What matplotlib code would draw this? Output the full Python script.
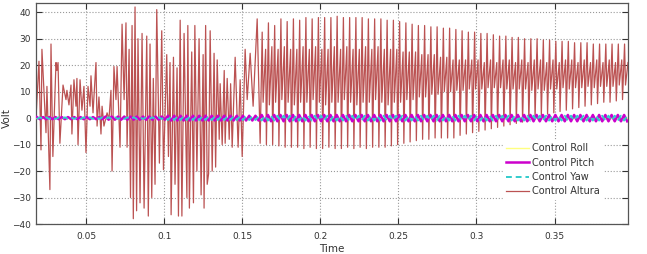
import matplotlib.pyplot as plt
import numpy as np

# first part of the altura trace, extremes (ms, volt)
alt_start_ms = [18.0, 19.9, 21.2, 21.8, 24.4, 25.0, 26.9, 27.6, 28.8, 30.8,
                31.4, 32.1, 33.3, 35.3, 37.2, 37.8, 39.1, 40.4, 41.0, 42.3,
                43.6, 44.2, 44.9, 46.2, 47.4, 48.7, 50.0, 51.3, 52.6, 53.2,
                54.5, 56.4, 57.1, 58.3, 59.6, 60.3, 61.5, 63.5, 64.7, 66.0,
                66.7, 67.9, 69.2, 69.9, 71.8, 73.1, 74.4, 75.6, 76.3, 77.6,
                78.5, 79.5, 80.3, 81.4, 82.4, 83.3, 84.6, 85.9, 87.2, 88.9,
                89.9, 91.0, 92.1, 93.1, 94.2, 95.3, 97.0, 98.5, 99.6, 101.7,
                102.8, 103.8, 104.5, 106.0, 107.0, 108.3, 109.2, 110.3, 111.4, 112.8,
                114.6, 115.2, 116.2, 117.7, 118.8, 119.7, 121.0, 122.4, 123.7, 125.0,
                125.6, 126.6, 127.6, 128.5, 129.5, 130.8, 132.0, 133.0, 134.0, 135.3,
                135.9, 137.2, 138.5, 139.1, 140.4, 141.7, 142.6, 143.6, 145.5, 147.4,
                148.7, 150.0, 151.9, 153.2, 155.1, 157.0, 159.6]
alt_start_v = [0, 21.5, -12, 26, -5.5, 12, -27, 28, -14.5, 21,
               18, 21, -9.5, 12.5, 7, 10.5, 5, 12.5, -6, 14.5,
               4.5, 15, -10, 14.5, 3, 12, -13, 12, 4.5, 16,
               2, 21, -3, 8, -6, 4.5, -3, 2, -0.5, 10.5,
               -20, 19.5, 7, 19.5, -11, 35.5, 7, 36, -11, 26,
               -30, 35, -38, 42, -35, 30, -32, 32, -34, 31,
               -37, 28, -30, 15, -25, 41, -17, 33, -19.5, 24,
               -14.5, 21, -36.5, 23, -25, 19, -37, 37, -37, 32,
               -30, 35, -34, 25, -32, 35, -20, 30, -29, 24,
               -34, 35, -25, -21, 33, -20, 24.5, -18.5, 22, -8,
               13, -10, 18, -9.5, 15, -8, 13, -11, 23, -11,
               14.5, -14.5, 26, 7, 24.5, 4.5, 37.5]

# from 161.5 ms on: one spike every 4 ms, per cycle values
cycle0_ms = 161.5
cycle_ms = 4.0
alt_trough = [-9.5, -10, -10, -10.5, -11, -11,
              -11, -11.5, -11, -11.5, -11.5, -11, -11.5, -11.5, -11, -11.5,
              -11, -11.5, -11, -11, -11,
              -10.5, -10, -9.5, -9, -8.5, -8, -8,
              -7.5, -7.5, -7.5, -7.5, -6.5, -6, -5.5, -5, -4.5,
              -4, -3.5, -3, -2.5, -2, -1.5, -1, 0, 1,
              1.5, 2, 2.5, 3, 3.5, 4, 4.5, 5, 5.5, 6, 6, 6.5, 7]
alt_peak = [32.5, 36, 35, 37.5, 36.5, 37.5, 37, 38, 37.5, 38,
            38, 38, 38.5, 38, 38, 38, 38, 37.5, 37.5, 37.5,
            37, 37, 36.5, 36, 35.5, 35, 35, 34.5, 34.5, 34,
            34, 33.5, 33, 32.5, 32.5, 32, 32, 31.5, 31, 31,
            30.5, 30.5, 30, 30, 30, 29.5, 29.5, 29, 29, 29,
            28.5, 28.5, 28.5, 28, 28, 28, 28, 28, 28]
# low point right after the spike, then the top of the slow climb before the drop
alt_dip = [6, 5, 6, 7, 6, 5, 6, 6, 7, 6,
           5, 6, 6, 7, 6, 5, 6, 6, 7, 6,
           5, 6, 6, 7, 7, 8, 8, 9,
           9, 10, 10, 10.5, 10.5, 11, 11, 11, 11.5, 11.5, 11.5, 11, 11,
           11, 11, 10.5, 11, 10.5, 11, 11, 11.5, 11, 11.5, 11.5, 12, 11.5,
           12, 12, 12, 12.5, 12.5]
alt_bump = [26, 27, 26, 27, 26, 26, 27, 26, 27, 26,
            26, 27, 26, 27, 26, 26, 27, 26, 27, 26,
            26, 26, 25, 25, 25, 24, 24, 24,
            23, 23, 22, 22, 22, 22, 22, 21, 22, 21, 22, 22, 21,
            22, 21, 22, 22, 21, 22, 21, 22, 22, 21, 22, 21, 22,
            21, 22, 21, 22, 21]

# pitch / yaw: small 4 ms wiggle round zero, amplitude per cycle from 17.5 ms
wiggle0_ms = 17.5
pitch_amp = [0.4, 0.4, 0.4, 0.4, 0.4, 0.4, 0.4, 0.4, 0.4, 0.4, 0.4,
             0.6, 0.6, 0.6, 0.6, 0.6, 0.6, 0.6, 0.6, 0.6, 0.6,
             0.9, 0.9, 0.9, 0.9, 0.9, 0.9, 0.9, 0.9, 0.9, 0.9, 0.9, 0.9, 0.9, 0.9, 0.9,
             1.2, 1.2, 1.2, 1.2, 1.2, 1.2, 1.2, 1.2, 1.2, 1.2,
             1.2, 1.2, 1.2, 1.2, 1.2, 1.2, 1.2, 1.2, 1.2, 1.2,
             1.2, 1.2, 1.2, 1.2, 1.2, 1.2, 1.2, 1.2, 1.2, 1.2,
             1.2, 1.2, 1.2, 1.2, 1.2, 1.2, 1.2, 1.2, 1.2, 1.2,
             1.2, 1.2, 1.2, 1.2, 1.2, 1.2, 1.2, 1.2, 1.2, 1.2,
             1.2, 1.2, 1.2, 1.2, 1.2, 1.2, 1.2, 1.2, 1.2]
yaw_amp = [0.3, 0.3, 0.3, 0.3, 0.3, 0.3, 0.3, 0.3, 0.3, 0.3, 0.3,
           0.3, 0.3, 0.3, 0.3, 0.3, 0.3, 0.3, 0.3, 0.3, 0.3,
           0.7, 0.7, 0.7, 0.7, 0.7, 0.7, 0.7, 0.7, 0.7, 0.7, 0.7, 0.7, 0.7, 0.7, 0.7,
           0.9, 0.9, 0.9, 0.9, 0.9, 0.9, 0.9, 0.9, 0.9, 0.9,
           0.9, 0.9, 0.9, 0.9, 0.9, 0.9, 0.9, 0.9, 0.9, 0.9,
           0.9, 0.9, 0.9, 0.9, 0.9, 0.9, 0.9, 0.9, 0.9, 0.9,
           0.9, 0.9, 0.9, 0.9, 0.9, 0.9, 0.9, 0.9, 0.9, 0.9,
           0.9, 0.9, 0.9, 0.9, 0.9, 0.9, 0.9, 0.9, 0.9, 0.9,
           0.9, 0.9, 0.9, 0.9, 0.9, 0.9, 0.9, 0.9, 0.9]

roll_ms = [18.0, 397.0]
roll_v = [0.0, 0.0]

# build the traces
n = len(alt_peak)
t0 = cycle0_ms + cycle_ms * np.arange(n)
t_reg = np.column_stack([t0, t0 + 1.3, t0 + 1.9, t0 + 3.5]).ravel()
v_reg = np.column_stack([alt_trough, alt_peak, alt_dip, alt_bump]).ravel()
alt_t = np.concatenate([alt_start_ms, t_reg]) / 1000
alt_v = np.concatenate([alt_start_v, v_reg])

m = len(pitch_amp)
w0 = wiggle0_ms + cycle_ms * np.arange(m)
wig_t = np.column_stack([w0 + 1.0, w0 + 3.0]).ravel() / 1000
pa = np.array(pitch_amp)
ya = np.array(yaw_amp)
pitch_v = np.column_stack([pa, -pa]).ravel()
yaw_v = np.column_stack([-ya, ya]).ravel()

fig = plt.figure(figsize=(6.47, 2.54), dpi=100)
ax = fig.add_axes([36/647, 1 - 224/254, 592/647, 221/254])

ax.plot(np.array(roll_ms) / 1000, roll_v, color='#ffff80', lw=1, label='Control Roll', zorder=3)
ax.plot(wig_t, pitch_v, color='#cc00cc', lw=1.8, label='Control Pitch', zorder=4)
ax.plot(wig_t, yaw_v, color='#33cccc', lw=1.4, ls=(0, (3, 2)), label='Control Yaw', zorder=5)
ax.plot(alt_t, alt_v, color='#bb5252', lw=0.9, label='Control Altura', zorder=2)

ax.set_xlim(0.018, 0.397)
ax.set_ylim(-40, 43.5)
ax.set_xticks([0.05, 0.1, 0.15, 0.2, 0.25, 0.3, 0.35])
ax.set_xticklabels(['0.05', '0.1', '0.15', '0.2', '0.25', '0.3', '0.35'])
ax.set_yticks(np.arange(-40, 41, 10))
ax.grid(True, ls=':', color='#999999', lw=0.8)
ax.tick_params(direction='in', top=True, right=True, length=4, width=0.8,
               labelsize=6.5, labelcolor='#333333', color='#333333')
ax.tick_params(axis='x', pad=6)
for s in ax.spines.values():
    s.set_color('#555555')
    s.set_linewidth(0.9)

ax.set_xlabel('Time', fontsize=7.5, color='#333333', labelpad=2)
ax.set_ylabel('Volt', fontsize=7.5, color='#333333')
ax.yaxis.set_label_coords(-0.041, 0.48)

leg = ax.legend(loc='center', bbox_to_anchor=(0.873, 0.245), fontsize=7,
                frameon=True, facecolor='white', edgecolor='white', framealpha=1,
                handlelength=2.4, labelspacing=0.45, handletextpad=0.3,
                borderpad=0.3, fancybox=False)
for txt in leg.get_texts():
    txt.set_color('#333333')

fig.savefig('out.png', dpi=100)
